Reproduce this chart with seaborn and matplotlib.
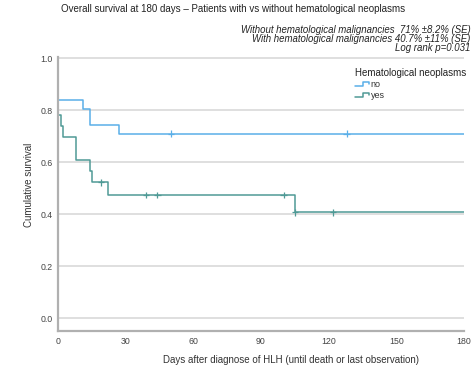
import numpy as np
import pandas as pd
import matplotlib
matplotlib.use("Agg")
import matplotlib.pyplot as plt
from matplotlib.legend_handler import HandlerBase
from matplotlib.lines import Line2D
import seaborn as sns

# ---- data ----
groups = ["no", "yes"]
no_times = [0, 11, 14, 27]
no_surv = [0.839, 0.806, 0.742, 0.710]
no_cens_times = [50, 128]
no_cens_surv = [0.710, 0.710]

yes_times = [0, 1.4, 2, 8, 14, 15, 22, 105]
yes_surv = [0.783, 0.739, 0.696, 0.609, 0.565, 0.522, 0.474, 0.407]
yes_cens_times = [19, 39, 44, 100, 105, 122]
yes_cens_surv = [0.522, 0.474, 0.474, 0.474, 0.407, 0.407]

follow_up_end = 180
x_ticks = [0, 30, 60, 90, 120, 150, 180]
y_ticks = [0.0, 0.2, 0.4, 0.6, 0.8, 1.0]

title = "Overall survival at 180 days \u2013 Patients with vs without hematological neoplasms"
notes = ["Without hematological malignancies  71% \u00b18.2% (SE)",
         "With hematological malignancies 40.7% \u00b111% (SE)",
         "Log rank p=0.031"]
legend_title = "Hematological neoplasms"
xlabel = "Days after diagnose of HLH (until death or last observation)"
ylabel = "Cumulative survival"

colors = {"no": "#5aafe8", "yes": "#4f9a96"}

# ---- build tables ----
rows = []
for g, t, s in [("no", no_times, no_surv), ("yes", yes_times, yes_surv)]:
    for ti, si in zip(t, s):
        rows.append({"time": ti, "surv": si, "group": g})
    rows.append({"time": follow_up_end, "surv": s[-1], "group": g})
curve = pd.DataFrame(rows)

crow = []
for g, t, s in [("no", no_cens_times, no_cens_surv), ("yes", yes_cens_times, yes_cens_surv)]:
    for ti, si in zip(t, s):
        crow.append({"time": ti, "surv": si, "group": g})
cens = pd.DataFrame(crow)

# ---- plot ----
sns.set_theme(style="white")
plt.rcParams["font.family"] = ["Liberation Sans", "DejaVu Sans"]

fig = plt.figure(figsize=(4.72, 3.65), dpi=100)
left_px, right_px = 58, 464
ax = fig.add_axes([left_px / 472, 1 - 331 / 365, (right_px - left_px) / 472, (331 - 57) / 365])

sns.lineplot(data=curve, x="time", y="surv", hue="group", hue_order=groups,
             palette=colors, drawstyle="steps-post", estimator=None,
             linewidth=1.1, ax=ax, legend=False)
sns.scatterplot(data=cens, x="time", y="surv", hue="group", hue_order=groups,
                palette=colors, marker="+", s=22, linewidth=0.9, ax=ax,
                legend=False, zorder=3)

ax.set_xlim(0, 180)
ax.set_ylim(-0.05, 1.005)
ax.set_xticks(x_ticks)
ax.set_xticklabels([str(v) for v in x_ticks])
ax.set_yticks(y_ticks)
ax.set_yticklabels([f"{v:.1f}" for v in y_ticks])
ax.tick_params(axis="both", length=0, labelsize=6.3, labelcolor="#444444", pad=4)
ax.grid(axis="y", color="#dcdcdc", linewidth=1.3)
ax.set_axisbelow(True)
for side in ["top", "right"]:
    ax.spines[side].set_visible(False)
for side in ["left", "bottom"]:
    ax.spines[side].set_color("#b0b0b0")
    ax.spines[side].set_linewidth(1.6)

ax.set_xlabel(xlabel, fontsize=7.0, color="#333333")
ax.xaxis.set_label_coords(0.575, -0.088)
ax.set_ylabel(ylabel, fontsize=7.0, color="#333333")
ax.yaxis.set_label_coords(-0.06, 0.535)

fig.text(233 / 472, 1 - 9 / 365, title, ha="center", va="center",
         fontsize=7.0, color="#222222")
for i, line in enumerate(notes):
    fig.text(0.997, 1 - (30 + 9.2 * i) / 365, line, ha="right", va="center",
             fontsize=6.9, style="italic", color="#222222")


class StepHandler(HandlerBase):
    def create_artists(self, legend, orig_handle, xdescent, ydescent,
                       width, height, fontsize, trans):
        w, h = width, height
        xs = np.array([0, 0.55, 0.55, 1.0, 1.0]) * w - xdescent
        ys = np.array([0.2, 0.2, 0.85, 0.85, 0.45]) * h - ydescent
        ln = Line2D(xs, ys, color=orig_handle.get_color(), linewidth=1.1,
                    transform=trans)
        return [ln]


handles = [Line2D([], [], color=colors[g]) for g in groups]
leg = ax.legend(handles, groups, title=legend_title, loc="upper left",
                bbox_to_anchor=((349 - left_px) / (right_px - left_px), (331 - 62) / 274),
                frameon=False, fontsize=6.5, title_fontsize=7.0,
                handler_map={Line2D: StepHandler()}, handlelength=1.5,
                handletextpad=0.2, labelspacing=0.2, borderpad=0.2,
                alignment="left")
for t in leg.get_texts():
    t.set_color("#333333")
leg.get_title().set_color("#222222")

fig.savefig("out.png", dpi=100)
